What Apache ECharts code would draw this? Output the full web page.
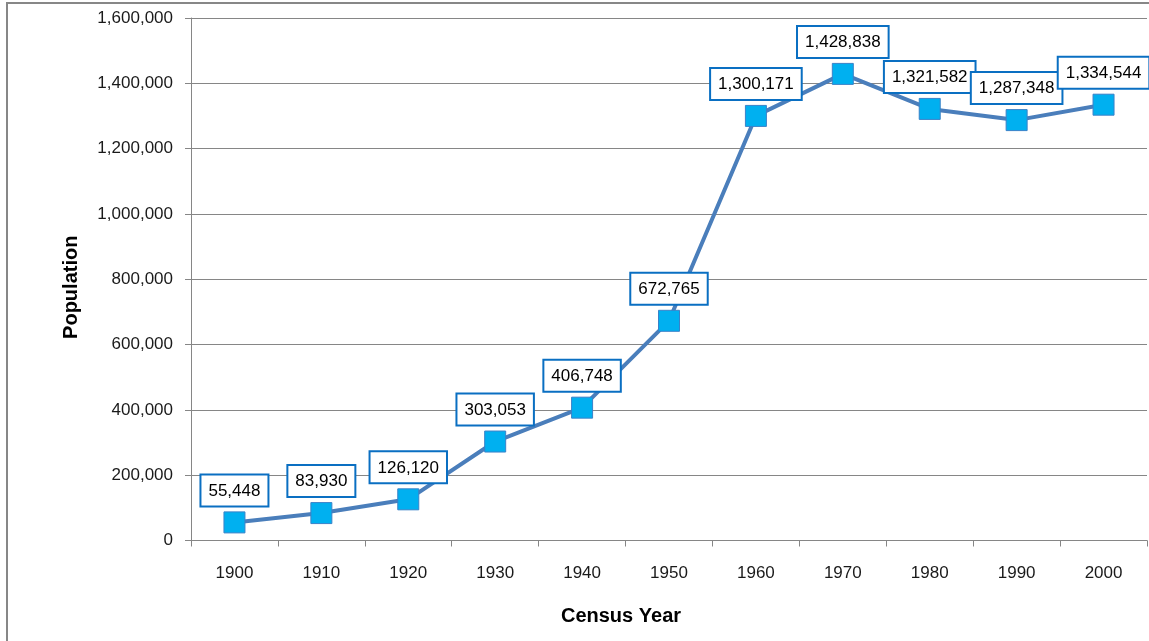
<!DOCTYPE html>
<html>
<head>
<meta charset="utf-8">
<script src="https://cdn.jsdelivr.net/npm/echarts@6/dist/echarts.min.js"></script>
<style>
  html, body { margin: 0; padding: 0; background: #fff; }
  #chart { width: 1149px; height: 641px; }
</style>
</head>
<body>
<div id="chart"></div>
<script>
// Census population by decade
const censusYears = ['1900', '1910', '1920', '1930', '1940', '1950', '1960', '1970', '1980', '1990', '2000'];
const population = [55448, 83930, 126120, 303053, 406748, 672765, 1300171, 1428838, 1321582, 1287348, 1334544];

const yMin = 0;
const yMax = 1600000;
const yStep = 200000;

const fontFamily = '"Liberation Sans", Arial, sans-serif';
const axisGray = '#868686';

const chart = echarts.init(document.getElementById('chart'), null, { renderer: 'canvas' });

chart.setOption({
  backgroundColor: '#ffffff',
  animation: false,
  textStyle: { fontFamily: fontFamily },
  graphic: [{
    type: 'rect',
    shape: { x: 7, y: 3, width: 1200, height: 700 },
    style: { fill: 'none', stroke: '#878787', lineWidth: 2 },
    silent: true,
    z: -10
  }],
  grid: { left: 191, right: 2, top: 18, bottom: 100.5, containLabel: false },
  xAxis: {
    type: 'category',
    data: censusYears,
    boundaryGap: true,
    name: 'Census Year',
    nameLocation: 'middle',
    nameGap: 66,
    nameTextStyle: {
      fontFamily: fontFamily, fontSize: 20, fontWeight: 'bold', color: '#000',
      padding: [0, 96, 0, 0]
    },
    axisLine: { show: true, lineStyle: { color: axisGray, width: 1 } },
    axisTick: { show: true, alignWithLabel: false, length: 6, lineStyle: { color: axisGray } },
    axisLabel: { fontFamily: fontFamily, fontSize: 17, color: '#1a1a1a', margin: 24 },
    splitLine: { show: false }
  },
  yAxis: {
    type: 'value',
    min: yMin,
    max: yMax,
    interval: yStep,
    name: 'Population',
    nameLocation: 'middle',
    nameGap: 110,
    nameRotate: 90,
    nameTextStyle: {
      fontFamily: fontFamily, fontSize: 20, fontWeight: 'bold', color: '#000',
      padding: [0, 16, 0, 0]
    },
    axisLine: { show: true, lineStyle: { color: axisGray, width: 1 } },
    axisTick: { show: true, length: 6, lineStyle: { color: axisGray } },
    axisLabel: {
      fontFamily: fontFamily, fontSize: 17, color: '#1a1a1a', margin: 18,
      formatter: v => v.toLocaleString('en-US')
    },
    splitLine: { show: true, lineStyle: { color: axisGray, width: 1 } }
  },
  series: [{
    type: 'line',
    data: population,
    symbol: 'rect',
    symbolSize: 21,
    lineStyle: { color: '#4a7ebb', width: 4 },
    itemStyle: { color: '#00b0f0', borderColor: '#3a82c8', borderWidth: 1 },
    label: {
      show: true,
      position: 'top',
      distance: 6,
      formatter: p => p.value.toLocaleString('en-US'),
      fontFamily: fontFamily,
      fontSize: 17,
      color: '#000',
      backgroundColor: '#ffffff',
      borderColor: '#0a6fc2',
      borderWidth: 2,
      padding: [7, 7, 6, 7]
    },
    z: 3
  }]
});
</script>
</body>
</html>
